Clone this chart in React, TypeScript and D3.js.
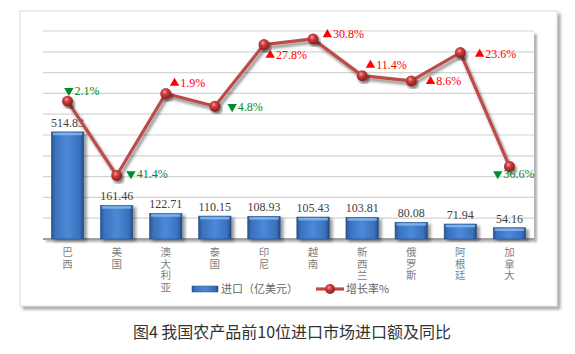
import { useEffect, useRef } from "react";
import * as d3 from "d3";

const countries = ["巴西", "美国", "澳大利亚", "泰国", "印尼", "越南", "新西兰", "俄罗斯", "阿根廷", "加拿大"];
const imports = [514.83, 161.46, 122.71, 110.15, 108.93, 105.43, 103.81, 80.08, 71.94, 54.16];
const growth = [-2.1, -41.4, 1.9, -4.8, 27.8, 30.8, 11.4, 8.6, 23.6, -36.6];
const barTicks = d3.range(0, 1001, 100);
const legendLabels = ["进口（亿美元）", "增长率%"];
const title = "图4 我国农产品前10位进口市场进口额及同比";

// where each growth label sits relative to its point (layout only)
const growthLabelOffset: [number, number][] = [
  [-3, -11], [10, -2], [4.5, -11], [13, 0], [2, 10],
  [10, -5], [4, -11], [15, 0], [15, 1], [-16, 7],
];

const W = 575;
const H = 354;

export default function App() {
  const ref = useRef<SVGSVGElement | null>(null);

  useEffect(() => {
    if (!ref.current) return;
    const svg = d3.select(ref.current);
    svg.selectAll("*").remove();

    const m = { l: 43, r: 41, t: 31, b: 115 };
    const pw = W - m.l - m.r;
    const ph = H - m.t - m.b;

    const x = d3.scaleBand<string>().domain(countries).range([0, pw]).paddingInner(0.34).paddingOuter(0.17);
    const y = d3.scaleLinear().domain([0, 1000]).range([ph, 0]);
    const y2 = d3.scaleLinear().domain([-75, 35]).range([ph, 0]);
    const cx = (c: string) => (x(c) as number) + x.bandwidth() / 2;

    const defs = svg.append("defs");
    const shadow = (id: string, dx: number, dy: number, sd: number, op: number) =>
      defs
        .append("filter")
        .attr("id", id)
        .attr("x", "-20%").attr("y", "-20%").attr("width", "140%").attr("height", "140%")
        .append("feDropShadow")
        .attr("dx", dx).attr("dy", dy).attr("stdDeviation", sd)
        .attr("flood-color", "#000").attr("flood-opacity", op);
    shadow("boxShadow", 3, 3, 1.5, 0.35);
    shadow("plotShadow", 3, 3, 1.2, 0.3);
    shadow("barShadow", 3, 2, 1.5, 0.4);
    shadow("lineShadow", 2, 3, 1.5, 0.45);

    const bg = defs.append("linearGradient").attr("id", "barGrad").attr("x1", "0").attr("x2", "1").attr("y1", "0").attr("y2", "0");
    [["0%", "#2a5590"], ["12%", "#3b72bd"], ["50%", "#4a89d8"], ["88%", "#3a70bb"], ["100%", "#24497f"]].forEach(([o, c]) =>
      bg.append("stop").attr("offset", o).attr("stop-color", c)
    );
    const rg = defs.append("radialGradient").attr("id", "dotGrad").attr("cx", "40%").attr("cy", "35%").attr("r", "65%");
    [["0%", "#f5a0a0"], ["35%", "#d04040"], ["100%", "#8a1c1c"]].forEach(([o, c]) =>
      rg.append("stop").attr("offset", o).attr("stop-color", c)
    );

    // outer chart box
    svg.append("rect")
      .attr("x", 20).attr("y", 11).attr("width", 537).attr("height", 295)
      .attr("fill", "#fff").attr("stroke", "#d9d9d9").attr("filter", "url(#boxShadow)");

    const g = svg.append("g").attr("transform", `translate(${m.l},${m.t})`);

    // plot area
    g.append("rect").attr("width", pw).attr("height", ph).attr("fill", "#fff").attr("filter", "url(#plotShadow)");

    g.append("g")
      .selectAll("line")
      .data(barTicks.slice(1))
      .join("line")
      .attr("x1", 0).attr("x2", pw)
      .attr("y1", (d) => y(d)).attr("y2", (d) => y(d))
      .attr("stroke", "#d4d4d4").attr("stroke-width", 1.2);

    g.append("line")
      .attr("x1", 0).attr("x2", pw).attr("y1", ph).attr("y2", ph)
      .attr("stroke", "#a0a0a0").attr("stroke-width", 2);

    // bars
    const bars = g.append("g").selectAll("g").data(imports).join("g");
    bars.append("rect")
      .attr("x", (_, i) => x(countries[i]) as number)
      .attr("y", (d) => y(d))
      .attr("width", x.bandwidth())
      .attr("height", (d) => ph - y(d))
      .attr("fill", "url(#barGrad)")
      .attr("stroke", "#264f8a").attr("stroke-width", 0.6)
      .attr("filter", "url(#barShadow)");
    bars.append("rect")
      .attr("x", (_, i) => (x(countries[i]) as number) + 1.5)
      .attr("y", (d) => y(d) + 0.8)
      .attr("width", x.bandwidth() - 3)
      .attr("height", 2.5)
      .attr("fill", "#8cbcf0").attr("opacity", 0.8);

    g.append("g")
      .selectAll("text")
      .data(imports)
      .join("text")
      .attr("x", (_, i) => cx(countries[i]))
      .attr("y", (d) => y(d) - 5)
      .attr("text-anchor", "middle")
      .attr("font-family", "'Liberation Serif', 'DejaVu Serif', serif")
      .attr("font-size", 12)
      .attr("fill", "#404040")
      .text((d) => d.toFixed(2));

    // growth line
    const line = d3.line<number>().x((_, i) => cx(countries[i])).y((d) => y2(d));
    g.append("path")
      .datum(growth)
      .attr("fill", "none")
      .attr("stroke", "#bd4b48")
      .attr("stroke-width", 3.2)
      .attr("stroke-linejoin", "round")
      .attr("filter", "url(#lineShadow)")
      .attr("d", line);

    g.append("g")
      .selectAll("circle")
      .data(growth)
      .join("circle")
      .attr("cx", (_, i) => cx(countries[i]))
      .attr("cy", (d) => y2(d))
      .attr("r", 5.5)
      .attr("fill", "url(#dotGrad)")
      .attr("filter", "url(#lineShadow)");

    // growth labels
    const tri = d3.symbol().type(d3.symbolTriangle).size(38);
    const gl = g.append("g").selectAll("g").data(growth).join("g")
      .attr("transform", (d, i) =>
        `translate(${cx(countries[i]) + growthLabelOffset[i][0]},${y2(d) + growthLabelOffset[i][1]})`
      );
    gl.append("path")
      .attr("d", tri() as string)
      .attr("transform", (d) => `translate(4.3,0.5) rotate(${d < 0 ? 180 : 0})`)
      .attr("fill", (d) => (d < 0 ? "#008a2e" : "#ff0000"));
    gl.append("text")
      .attr("x", 10)
      .attr("y", 4.5)
      .attr("font-family", "'Liberation Serif', 'DejaVu Serif', serif")
      .attr("font-size", 12)
      .attr("fill", (d) => (d < 0 ? "#008a2e" : "#ff0000"))
      .text((d) => `${Math.abs(d).toFixed(1)}%`);

    // vertical category labels (stacked characters)
    g.append("g")
      .selectAll("text")
      .data(countries)
      .join("text")
      .attr("x", (c) => cx(c))
      .attr("y", ph + 8)
      .attr("writing-mode", "vertical-rl")
      .style("writing-mode", "vertical-rl")
      .attr("letter-spacing", 1)
      .attr("font-family", "'Noto Sans CJK SC', sans-serif")
      .attr("font-size", 10.5)
      .attr("fill", "#808080")
      .text((c) => c);

    // legend
    const lg = svg.append("g").attr("font-family", "'Noto Sans CJK SC', sans-serif").attr("font-size", 11).attr("fill", "#666");
    lg.append("rect").attr("x", 192).attr("y", 286).attr("width", 26).attr("height", 6)
      .attr("fill", "url(#barGrad)").attr("stroke", "#264f8a").attr("stroke-width", 0.5);
    lg.append("text").attr("x", 221).attr("y", 293).text(legendLabels[0]);
    lg.append("line").attr("x1", 316).attr("x2", 344).attr("y1", 289).attr("y2", 289)
      .attr("stroke", "#bd4b48").attr("stroke-width", 3.2);
    lg.append("circle").attr("cx", 330).attr("cy", 289).attr("r", 5).attr("fill", "url(#dotGrad)");
    lg.append("text").attr("x", 346).attr("y", 293).text(legendLabels[1]);

    // caption
    svg.append("text")
      .attr("x", 292).attr("y", 338)
      .attr("text-anchor", "middle")
      .attr("font-family", "'Noto Sans CJK SC', sans-serif")
      .attr("font-size", 16)
      .attr("fill", "#333")
      .text(title);
  }, []);

  return (
    <div style={{ position: "absolute", left: 0, top: 0 }}>
      <svg ref={ref} width={W} height={H} style={{ display: "block" }} />
    </div>
  );
}
